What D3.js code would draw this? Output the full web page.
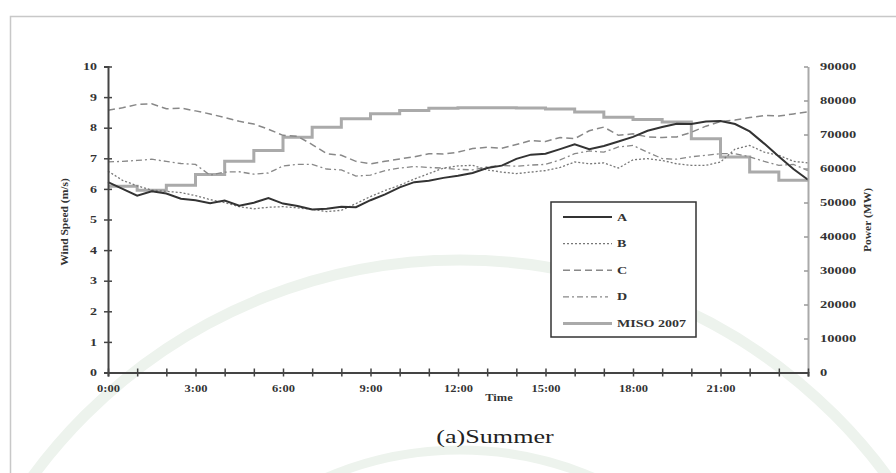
<!DOCTYPE html>
<html>
<head>
<meta charset="utf-8">
<script src="https://cdn.jsdelivr.net/npm/d3@7"></script>
<style>
  body { margin: 0; background: #fff; }
  svg text { font-family: "Liberation Serif", "DejaVu Serif", serif; }
</style>
</head>
<body>
<svg id="chart" width="896" height="473"></svg>
<script>
// time of day (hours)
var hours = [0, 0.5, 1, 1.5, 2, 2.5, 3, 3.5, 4, 4.5, 5, 5.5, 6, 6.5, 7, 7.5, 8, 8.5, 9, 9.5,
  10, 10.5, 11, 11.5, 12, 12.5, 13, 13.5, 14, 14.5, 15, 15.5, 16, 16.5, 17, 17.5, 18, 18.5, 19, 19.5,
  20, 20.5, 21, 21.5, 22, 22.5, 23, 23.5, 24];

// wind speed (m/s)
var siteA = [6.22, 6.00, 5.78, 5.92, 5.85, 5.68, 5.63, 5.53, 5.62, 5.45, 5.55, 5.70, 5.52, 5.44, 5.33, 5.35, 5.42, 5.40, 5.63, 5.82,
  6.05, 6.22, 6.27, 6.36, 6.43, 6.52, 6.68, 6.76, 6.98, 7.12, 7.15, 7.30, 7.46, 7.30, 7.40, 7.55, 7.70, 7.90, 8.02, 8.13,
  8.12, 8.20, 8.22, 8.12, 7.88, 7.48, 7.06, 6.65, 6.30];
var siteB = [6.58, 6.28, 6.10, 5.96, 5.92, 5.88, 5.78, 5.65, 5.55, 5.42, 5.35, 5.40, 5.42, 5.38, 5.33, 5.26, 5.30, 5.52, 5.75, 5.95,
  6.12, 6.32, 6.50, 6.68, 6.75, 6.77, 6.62, 6.55, 6.50, 6.55, 6.60, 6.70, 6.88, 6.82, 6.85, 6.68, 6.95, 6.99, 6.93, 6.82,
  6.77, 6.77, 6.88, 7.30, 7.42, 7.20, 7.10, 6.90, 6.85];
var siteC = [8.57, 8.65, 8.76, 8.78, 8.62, 8.64, 8.55, 8.45, 8.33, 8.21, 8.12, 7.95, 7.75, 7.72, 7.45, 7.15, 7.10, 6.90, 6.82, 6.90,
  6.98, 7.05, 7.15, 7.14, 7.20, 7.32, 7.36, 7.33, 7.45, 7.58, 7.55, 7.68, 7.64, 7.90, 8.02, 7.75, 7.80, 7.70, 7.68, 7.70,
  7.85, 8.05, 8.20, 8.25, 8.33, 8.40, 8.38, 8.45, 8.52];
var siteD = [6.88, 6.90, 6.93, 6.97, 6.90, 6.83, 6.80, 6.45, 6.55, 6.56, 6.48, 6.52, 6.75, 6.80, 6.80, 6.65, 6.62, 6.42, 6.45, 6.60,
  6.68, 6.73, 6.70, 6.68, 6.64, 6.62, 6.72, 6.77, 6.74, 6.78, 6.80, 6.95, 7.15, 7.24, 7.20, 7.37, 7.42, 7.20, 6.99, 6.97,
  7.05, 7.10, 7.15, 7.15, 7.05, 6.90, 6.77, 6.80, 6.60];

// MISO 2007 load (MW), hourly steps
var misoHours = [0, 1, 2, 3, 4, 5, 6, 7, 8, 9, 10, 11, 12, 13, 14, 15, 16, 17, 18, 19, 20, 21, 22, 23, 24];
var misoLoad = [54800, 53600, 55050, 58200, 62100, 65300, 69200, 72150, 74600, 76100, 77070, 77750, 77900, 77900, 77800, 77500,
  76600, 75100, 74400, 73650, 68750, 63360, 58960, 56520, 56520];

var seriesNames = ["A", "B", "C", "D", "MISO 2007"];
var xTickHours = [0, 1, 2, 3, 4, 5, 6, 7, 8, 9, 10, 11, 12, 13, 14, 15, 16, 17, 18, 19, 20, 21, 22, 23, 24];
var speedTicks = [0, 1, 2, 3, 4, 5, 6, 7, 8, 9, 10];
var powerTicks = [0, 10000, 20000, 30000, 40000, 50000, 60000, 70000, 80000, 90000];

var svg = d3.select("#chart");

// faint seal watermark
var wm = svg.append("g").attr("fill", "none").attr("stroke", "#edf3ed");
wm.append("circle").attr("cx", 460).attr("cy", 790).attr("r", 530).attr("stroke-width", 11);
wm.append("circle").attr("cx", 460).attr("cy", 790).attr("r", 340).attr("stroke-width", 9);

// page frame
svg.append("path").attr("d", "M10.5,473 V16.5 H896")
  .attr("fill", "none").attr("stroke", "#c8c8c8").attr("stroke-width", 1.5);

var x = d3.scaleLinear().domain([0, 24]).range([108, 808]);
var y = d3.scaleLinear().domain([0, 10]).range([372.5, 66.5]);
var yP = d3.scaleLinear().domain([0, 90000]).range([372.5, 66.5]);

// lines
var speedLine = d3.line().x(function(d) { return x(d[0]); }).y(function(d) { return y(d[1]); });
var misoLine = d3.line().curve(d3.curveStepAfter)
  .x(function(d) { return x(d[0]); }).y(function(d) { return yP(d[1]); });

var styles = {
  "A": { color: "#333", width: 2, dash: null },
  "B": { color: "#777", width: 1.3, dash: "2,2" },
  "C": { color: "#888", width: 1.5, dash: "7,4" },
  "D": { color: "#888", width: 1.3, dash: "6,3,2,3" },
  "MISO 2007": { color: "#aaa", width: 3, dash: null }
};

svg.append("path")
  .datum(d3.zip(misoHours, misoLoad))
  .attr("d", misoLine)
  .attr("fill", "none").attr("stroke", styles["MISO 2007"].color)
  .attr("stroke-width", styles["MISO 2007"].width);

[["C", siteC], ["D", siteD], ["B", siteB], ["A", siteA]].forEach(function(s) {
  var st = styles[s[0]];
  svg.append("path")
    .datum(d3.zip(hours, s[1]))
    .attr("d", speedLine)
    .attr("fill", "none")
    .attr("stroke", st.color)
    .attr("stroke-width", st.width)
    .attr("stroke-dasharray", st.dash);
});

// axes
var leftAxis = svg.append("g").attr("transform", "translate(108,0)")
  .call(d3.axisLeft(y).tickValues(speedTicks).tickFormat(d3.format("d")).tickSize(4));
leftAxis.selectAll(".tick line").attr("x1", -4).attr("x2", 4);
leftAxis.select(".domain").attr("stroke", "#444").attr("stroke-width", 2);

var rightAxis = svg.append("g").attr("transform", "translate(808,0)")
  .call(d3.axisRight(yP).tickValues(powerTicks).tickFormat(d3.format("d")).tickSize(0));
rightAxis.selectAll(".tick line").attr("x1", -4).attr("x2", 0).attr("stroke", "#999");
rightAxis.select(".domain").attr("stroke", "#aaa").attr("stroke-width", 2);

var bottomAxis = svg.append("g").attr("transform", "translate(0,372.5)")
  .call(d3.axisBottom(x).tickValues(xTickHours)
    .tickFormat(function(h) { return (h % 3 === 0 && h < 24) ? h + ":00" : ""; })
    .tickSize(4).tickPadding(8));
bottomAxis.selectAll(".tick line").attr("y1", -4).attr("y2", 4);
bottomAxis.select(".domain").attr("stroke", "#444").attr("stroke-width", 2);

svg.selectAll(".tick line").attr("stroke-width", 1.5);
svg.selectAll(".tick text")
  .attr("font-family", "Liberation Serif").attr("font-size", 10)
  .attr("font-weight", "bold").attr("fill", "#333");
leftAxis.selectAll(".tick line").attr("stroke", "#444");
bottomAxis.selectAll(".tick line").attr("stroke", "#444");

// the source text is horizontally stretched
leftAxis.selectAll(".tick text").attr("transform", "scale(1.4,1)").attr("x", -11 / 1.4);
rightAxis.selectAll(".tick text").attr("transform", "scale(1.45,1)").attr("x", 12 / 1.45);
bottomAxis.selectAll(".tick text").attr("transform", "scale(1.25,1)");

// axis titles
svg.append("text").attr("transform", "translate(68,222) rotate(-90) scale(1.1,1)")
  .attr("text-anchor", "middle").attr("font-size", 10.5).attr("font-weight", "bold")
  .attr("fill", "#333").text("Wind Speed (m/s)");
svg.append("text").attr("transform", "translate(871,220) rotate(-90) scale(1.1,1)")
  .attr("text-anchor", "middle").attr("font-size", 10.5).attr("font-weight", "bold")
  .attr("fill", "#333").text("Power (MW)");
svg.append("text").attr("transform", "translate(499,401) scale(1.25,1)")
  .attr("text-anchor", "middle").attr("font-size", 10).attr("font-weight", "bold")
  .attr("fill", "#333").text("Time");
svg.append("text").attr("transform", "translate(495,443) scale(1.45,1)")
  .attr("text-anchor", "middle").attr("font-size", 18)
  .attr("fill", "#222").text("(a)Summer");

// legend
var legend = svg.append("g").attr("transform", "translate(551,202)");
legend.append("rect").attr("width", 145).attr("height", 135)
  .attr("fill", "#fff").attr("stroke", "#333").attr("stroke-width", 1.5);
seriesNames.forEach(function(name, i) {
  var st = styles[name];
  var ly = 15 + i * 26.6;
  legend.append("line").attr("x1", 12).attr("x2", name === "D" ? 57 : 61).attr("y1", ly).attr("y2", ly)
    .attr("stroke", st.color).attr("stroke-width", st.width)
    .attr("stroke-dasharray", st.dash);
  legend.append("text")
    .attr("transform", "translate(66," + (ly + 3.5) + ") scale(1.34,1)")
    .attr("font-size", 10.5).attr("font-weight", "bold").attr("fill", "#333")
    .text(name);
});
</script>
</body>
</html>
